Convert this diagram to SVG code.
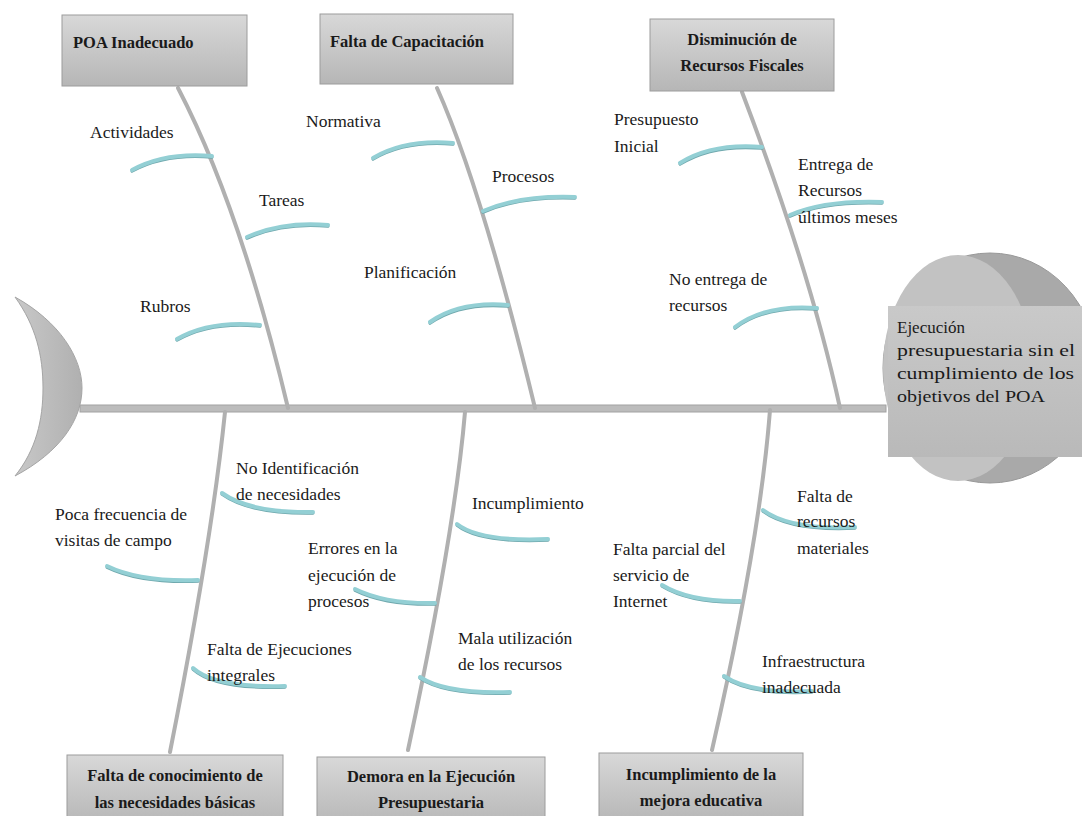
<svg xmlns="http://www.w3.org/2000/svg" xmlns:xlink="http://www.w3.org/1999/xlink" width="1082" height="816" viewBox="0 0 1082 816">
<defs>
<linearGradient id="boxg" x1="0" y1="0" x2="0" y2="1">
<stop offset="0" stop-color="#d8d8d8"/>
<stop offset="1" stop-color="#b6b6b6"/>
</linearGradient>
<linearGradient id="tailg" x1="0" y1="0" x2="1" y2="0">
<stop offset="0" stop-color="#c8c8c8"/>
<stop offset="1" stop-color="#b0b0b0"/>
</linearGradient>
<linearGradient id="headg" x1="0" y1="0" x2="0" y2="1">
<stop offset="0" stop-color="#c9c9c9"/>
<stop offset="1" stop-color="#b9b9b9"/>
</linearGradient>
<style>
.box{fill:url(#boxg);stroke:#9c9c9c;stroke-width:1}
.title{font-family:'Liberation Serif','DejaVu Serif','Noto Serif',serif;font-weight:bold;font-size:16.5px;fill:#1a1a1a}
.lbl{font-family:'Liberation Serif','DejaVu Serif','Noto Serif',serif;font-size:17.5px;fill:#1a1a1a}
.head{font-family:'Liberation Serif','DejaVu Serif','Noto Serif',serif;font-size:17px;fill:#1a1a1a}
.bone{fill:none;stroke:#b0b0b0;stroke-width:4;stroke-linecap:round}
.ribs{fill:none;stroke:#93cfd4;stroke-width:4;stroke-linecap:round}
.ribshade{fill:none;stroke:#6fa8ad;stroke-width:3;stroke-linecap:round}
</style>
</defs>
<rect width="1082" height="816" fill="#ffffff"/>

<g id="tail">
<path d="M15,297 C60,322 82,358 82,388 C82,420 60,452 15,476 C36,450 43,420 43,388 C43,356 36,326 15,297 Z" fill="url(#tailg)" stroke="#a5a5a5" stroke-width="1"/>
</g>

<g id="connectors">
<rect x="80" y="405" width="806" height="7" fill="#bcbcbc" stroke="#a2a2a2" stroke-width="1"/>
<path class="bone" d="M178,88 Q240,207 288,408"/>
<path class="bone" d="M437,88 Q482,189 535,408"/>
<path class="bone" d="M742,92 Q810,270 840,408"/>
<path class="bone" d="M225,412 Q212,540 170,752"/>
<path class="bone" d="M465,412 Q455,530 408,750"/>
<path class="bone" d="M770,410 Q760,540 712,750"/>
<use xlink:href="#ribpaths" href="#ribpaths" class="ribshade" transform="translate(0,1.3)"/>
<g class="ribs">
<g id="ribpaths">
<path d="M212,156 Q165,152 132,170"/>
<path d="M247,237 Q283,221 328,225"/>
<path d="M260,325 Q210,320 177,339"/>
<path d="M453,143 Q405,139 373,158"/>
<path d="M483,211 Q520,195 575,197"/>
<path d="M508,305 Q460,301 430,322"/>
<path d="M762,147 Q712,143 680,163"/>
<path d="M790,215 Q825,200 882,202"/>
<path d="M817,308 Q765,304 735,327"/>
<path d="M222,493 Q250,513 313,512"/>
<path d="M107,566 Q140,582 198,580"/>
<path d="M193,668 Q215,688 285,686"/>
<path d="M355,589 Q385,604 435,603"/>
<path d="M457,524 Q480,542 548,539"/>
<path d="M420,677 Q445,694 510,692"/>
<path d="M763,510 Q790,530 855,527"/>
<path d="M662,585 Q690,602 740,601"/>
<path d="M724,676 Q750,694 812,691"/>
</g>
</g>
</g>

<g id="head">
<ellipse cx="990" cy="368" rx="107" ry="115" fill="#a9a9a9" stroke="#999999" stroke-width="1"/>
<ellipse cx="958" cy="368" rx="75" ry="113" fill="#c2c2c2"/>
<rect x="888" y="306" width="194" height="151" fill="url(#headg)"/>
<text class="head" x="897" y="333" textLength="68" lengthAdjust="spacingAndGlyphs">Ejecución</text>
<text class="head" x="897" y="356" textLength="178" lengthAdjust="spacingAndGlyphs">presupuestaria sin el</text>
<text class="head" x="897" y="379" textLength="177" lengthAdjust="spacingAndGlyphs">cumplimiento de los</text>
<text class="head" x="897" y="402" textLength="148" lengthAdjust="spacingAndGlyphs">objetivos del POA</text>
</g>

<g id="cause-poa">
<rect class="box" x="62" y="15" width="185" height="71"/>
<text class="title" x="73" y="48">POA Inadecuado</text>
</g>
<g id="cause-capacitacion">
<rect class="box" x="320" y="14" width="193" height="70"/>
<text class="title" x="330" y="47">Falta de Capacitación</text>
</g>
<g id="cause-recursos">
<rect class="box" x="650" y="19" width="184" height="72"/>
<text class="title" x="742" y="45" text-anchor="middle">Disminución de</text>
<text class="title" x="742" y="71" text-anchor="middle">Recursos Fiscales</text>
</g>
<g id="cause-conocimiento">
<rect class="box" x="67" y="755" width="216" height="70"/>
<text class="title" x="175" y="781" text-anchor="middle">Falta de conocimiento de</text>
<text class="title" x="175" y="808" text-anchor="middle">las necesidades básicas</text>
</g>
<g id="cause-demora">
<rect class="box" x="317" y="757" width="228" height="70"/>
<text class="title" x="431" y="782" text-anchor="middle">Demora en la Ejecución</text>
<text class="title" x="431" y="808" text-anchor="middle">Presupuestaria</text>
</g>
<g id="cause-mejora">
<rect class="box" x="599" y="753" width="204" height="70"/>
<text class="title" x="701" y="780" text-anchor="middle">Incumplimiento de la</text>
<text class="title" x="701" y="806" text-anchor="middle">mejora educativa</text>
</g>

<g id="sub-actividades"><text class="lbl" x="90" y="138">Actividades</text></g>
<g id="sub-tareas"><text class="lbl" x="259" y="206">Tareas</text></g>
<g id="sub-rubros"><text class="lbl" x="140" y="312">Rubros</text></g>
<g id="sub-normativa"><text class="lbl" x="306" y="127">Normativa</text></g>
<g id="sub-procesos"><text class="lbl" x="492" y="182">Procesos</text></g>
<g id="sub-planificacion"><text class="lbl" x="364" y="278">Planificación</text></g>
<g id="sub-presupuesto"><text class="lbl" x="614" y="125">Presupuesto</text><text class="lbl" x="614" y="152">Inicial</text></g>
<g id="sub-entrega"><text class="lbl" x="798" y="170">Entrega de</text><text class="lbl" x="798" y="196">Recursos</text><text class="lbl" x="798" y="223">últimos meses</text></g>
<g id="sub-noentrega"><text class="lbl" x="669" y="285">No entrega de</text><text class="lbl" x="669" y="311">recursos</text></g>
<g id="sub-noident"><text class="lbl" x="236" y="474">No Identificación</text><text class="lbl" x="236" y="500">de necesidades</text></g>
<g id="sub-poca"><text class="lbl" x="55" y="520">Poca frecuencia de</text><text class="lbl" x="55" y="546">visitas de campo</text></g>
<g id="sub-errores"><text class="lbl" x="308" y="554">Errores en la</text><text class="lbl" x="308" y="581">ejecución de</text><text class="lbl" x="308" y="607">procesos</text></g>
<g id="sub-incumplimiento"><text class="lbl" x="472" y="509">Incumplimiento</text></g>
<g id="sub-ejecuciones"><text class="lbl" x="207" y="655">Falta de Ejecuciones</text><text class="lbl" x="207" y="681">integrales</text></g>
<g id="sub-mala"><text class="lbl" x="458" y="644">Mala utilización</text><text class="lbl" x="458" y="670">de los recursos</text></g>
<g id="sub-materiales"><text class="lbl" x="797" y="502">Falta de</text><text class="lbl" x="797" y="527">recursos</text><text class="lbl" x="797" y="554">materiales</text></g>
<g id="sub-internet"><text class="lbl" x="613" y="555">Falta parcial del</text><text class="lbl" x="613" y="581">servicio de</text><text class="lbl" x="613" y="607">Internet</text></g>
<g id="sub-infra"><text class="lbl" x="762" y="667">Infraestructura</text><text class="lbl" x="762" y="693">inadecuada</text></g>
</svg>
